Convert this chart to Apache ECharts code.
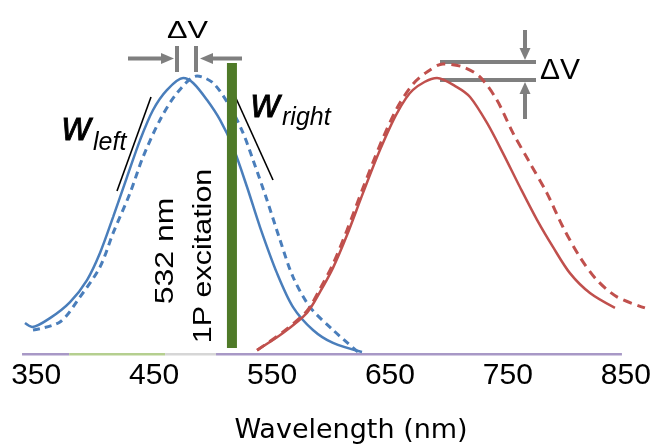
<!DOCTYPE html>
<html><head><meta charset="utf-8">
<script src="https://cdn.jsdelivr.net/npm/echarts@6/dist/echarts.min.js"></script>
<style>html,body{margin:0;padding:0;background:#fff}#c{width:654px;height:448px}</style>
</head><body><div id="c"></div>
<script>
// ---- data (wavelength in nm, normalized intensity) ----
const xTickLabels = [350, 450, 550, 650, 750, 850];

const blueSolidX = [340.5, 346.5, 361.7, 378.7, 393.1, 404.1, 415.2, 427.0, 438.1, 449.1, 461.0, 474.6, 483.1, 494.9, 505.9, 516.9, 528.8, 539.8, 554.2, 567.8, 584.7, 601.7, 626.3];
const blueSolidY = [0.112, 0.098, 0.130, 0.188, 0.268, 0.366, 0.496, 0.641, 0.775, 0.884, 0.957, 1.000, 0.982, 0.920, 0.848, 0.750, 0.605, 0.460, 0.293, 0.170, 0.087, 0.040, 0.007];

const blueDashedX = [347.3, 370.2, 387.2, 404.1, 415.2, 429.6, 440.6, 455.0, 469.5, 486.4, 500.0, 514.4, 525.4, 533.9, 545.7, 556.8, 567.8, 582.2, 601.7, 622.9];
const blueDashedY = [0.087, 0.116, 0.207, 0.315, 0.438, 0.583, 0.714, 0.848, 0.946, 1.007, 0.982, 0.895, 0.801, 0.703, 0.558, 0.413, 0.279, 0.170, 0.087, 0.007];

const redSolidX = [537.3, 559.3, 579.6, 590.7, 601.7, 613.6, 627.1, 641.5, 656.0, 669.5, 689.9, 706.8, 717.9, 732.3, 745.8, 760.2, 774.7, 788.2, 802.6, 819.6, 840.8];
const redSolidY = [0.014, 0.076, 0.149, 0.225, 0.312, 0.431, 0.583, 0.739, 0.873, 0.957, 1.000, 0.967, 0.931, 0.837, 0.728, 0.605, 0.486, 0.388, 0.293, 0.221, 0.167];

const redDashedX = [537.3, 559.3, 579.6, 590.7, 601.7, 613.6, 627.1, 641.5, 656.0, 669.5, 681.4, 695.0, 711.9, 726.3, 740.7, 754.3, 768.7, 783.1, 796.7, 811.1, 825.5, 842.5, 866.2];
const redDashedY = [0.014, 0.080, 0.156, 0.236, 0.326, 0.449, 0.601, 0.757, 0.891, 0.978, 1.022, 1.051, 1.040, 1.004, 0.920, 0.801, 0.692, 0.583, 0.460, 0.351, 0.268, 0.207, 0.167];

const excitationX = [516, 516];
const excitationY = [0.022, 1.054];

const baselineStarts = [338, 378, 459.3, 502.5];
const baselineEnds = [378, 459.3, 502.5, 846.7];

// ---- build ----
const zip = (xs, ys) => xs.map((x, i) => [x, ys[i]]);
const baselineColors = ['#a898c6', '#b5cf8f', '#d6d6d6', '#a898c6'];
const grey = '#7f7f7f';
const sans = 'Liberation Sans, Arial, sans-serif';

const chart = echarts.init(document.getElementById('c'), null, {renderer: 'canvas'});

function arrowH(x1, x2, y) { // shaft from x1 to tip x2
  const dir = x2 > x1 ? 1 : -1;
  const headLen = 13, halfH = 5.5;
  const shaftEnd = x2 - dir * (headLen - 2);
  return [
    {type: 'line', shape: {x1: x1, y1: y, x2: shaftEnd, y2: y}, style: {stroke: grey, lineWidth: 4}},
    {type: 'polygon', shape: {points: [[x2 - dir * headLen, y - halfH], [x2, y], [x2 - dir * headLen, y + halfH]]}, style: {fill: grey}}
  ];
}
function arrowV(x, y1, y2) { // shaft from y1 to tip y2
  const dir = y2 > y1 ? 1 : -1;
  const headLen = 12, halfW = 5.5;
  const shaftEnd = y2 - dir * (headLen - 2);
  return [
    {type: 'line', shape: {x1: x, y1: y1, x2: x, y2: shaftEnd}, style: {stroke: grey, lineWidth: 4}},
    {type: 'polygon', shape: {points: [[x - halfW, y2 - dir * headLen], [x, y2], [x + halfW, y2 - dir * headLen]]}, style: {fill: grey}}
  ];
}

const graphics = [].concat(
  arrowH(128, 174, 58.5),
  arrowH(242, 200, 58.5),
  [
    {type: 'line', shape: {x1: 177, y1: 46, x2: 177, y2: 72}, style: {stroke: grey, lineWidth: 4}},
    {type: 'line', shape: {x1: 196, y1: 46, x2: 196, y2: 72}, style: {stroke: grey, lineWidth: 4}},
    {type: 'text', x: 187.5, y: 31.5, scaleX: 1.28, style: {text: 'ΔV', font: '24px ' + sans, fill: '#000', textAlign: 'center', textVerticalAlign: 'middle'}},
    {type: 'line', shape: {x1: 440, y1: 62, x2: 536, y2: 62}, style: {stroke: grey, lineWidth: 4}},
    {type: 'line', shape: {x1: 440, y1: 80, x2: 536, y2: 80}, style: {stroke: grey, lineWidth: 4}},
    {type: 'text', x: 560, y: 71, style: {text: 'ΔV', font: '30px ' + sans, fill: '#000', textAlign: 'center', textVerticalAlign: 'middle'}},
    {type: 'line', shape: {x1: 151, y1: 97, x2: 117, y2: 191}, style: {stroke: '#000', lineWidth: 1.6}},
    {type: 'line', shape: {x1: 230, y1: 85, x2: 273, y2: 180}, style: {stroke: '#000', lineWidth: 1.6}},
    {type: 'text', x: 62, y: 128.5, style: {text: 'w', font: 'italic 40px ' + sans, fill: '#000', stroke: '#000', lineWidth: 0.8, textAlign: 'left', textVerticalAlign: 'middle'}},
    {type: 'text', x: 93, y: 143, style: {text: 'left', font: 'italic 25px ' + sans, fill: '#000', textAlign: 'left', textVerticalAlign: 'middle'}},
    {type: 'text', x: 251, y: 106, style: {text: 'w', font: 'italic 40px ' + sans, fill: '#000', stroke: '#000', lineWidth: 0.8, textAlign: 'left', textVerticalAlign: 'middle'}},
    {type: 'text', x: 282, y: 118, style: {text: 'right', font: 'italic 25px ' + sans, fill: '#000', textAlign: 'left', textVerticalAlign: 'middle'}},
    {type: 'text', x: 166, y: 251, rotation: Math.PI / 2, scaleX: 1.28, style: {text: '532 nm', font: '25px ' + sans, fill: '#000', textAlign: 'center', textVerticalAlign: 'middle'}},
    {type: 'text', x: 204, y: 256, rotation: Math.PI / 2, scaleX: 1.22, style: {text: '1P excitation', font: '25px ' + sans, fill: '#000', textAlign: 'center', textVerticalAlign: 'middle'}}
  ],
  arrowV(525, 30, 60),
  arrowV(525, 119, 82)
);

chart.setOption({
  animation: false,
  backgroundColor: '#fff',
  grid: {left: 12.6, right: 4.6, top: 22.8, bottom: 94, containLabel: false, outerBoundsMode: 'none'},
  xAxis: {
    type: 'value', min: 330, max: 870,
    axisLine: {show: false}, axisTick: {show: false}, splitLine: {show: false},
    axisLabel: {customValues: xTickLabels, fontSize: 30, fontFamily: sans, color: '#000', margin: 7},
    name: 'Wavelength (nm)', nameLocation: 'middle', nameGap: 63,
    nameTextStyle: {fontFamily: 'DejaVu Sans, sans-serif', fontSize: 27, color: '#000', padding: [0, 0, 0, 40]}
  },
  yAxis: {type: 'value', min: 0, max: 1.2, show: false},
  series: [
    {type: 'lines', coordinateSystem: 'cartesian2d', z: 1, silent: true,
     lineStyle: {width: 3, opacity: 1},
     data: baselineStarts.map((s, i) => ({coords: [[s, 0], [baselineEnds[i], 0]], lineStyle: {color: baselineColors[i]}}))},
    {name: 'blue solid', type: 'line', data: zip(blueSolidX, blueSolidY), smooth: 0.3, showSymbol: false, z: 3,
     lineStyle: {color: '#4a7ebb', width: 2.5}},
    {name: 'blue dashed', type: 'line', data: zip(blueDashedX, blueDashedY), smooth: 0.3, showSymbol: false, z: 3,
     lineStyle: {color: '#4a7ebb', width: 3, type: [7, 5]}},
    {name: '532 nm excitation', type: 'line', data: zip(excitationX, excitationY), showSymbol: false, z: 4,
     lineStyle: {color: '#4f7a28', width: 10, cap: 'butt'}},
    {name: 'red solid', type: 'line', data: zip(redSolidX, redSolidY), smooth: 0.3, showSymbol: false, z: 5,
     lineStyle: {color: '#c0504d', width: 2.5}},
    {name: 'red dashed', type: 'line', data: zip(redDashedX, redDashedY), smooth: 0.3, showSymbol: false, z: 5,
     lineStyle: {color: '#c0504d', width: 3, type: [9, 6]}}
  ],
  graphic: graphics
});
</script>
</body></html>
